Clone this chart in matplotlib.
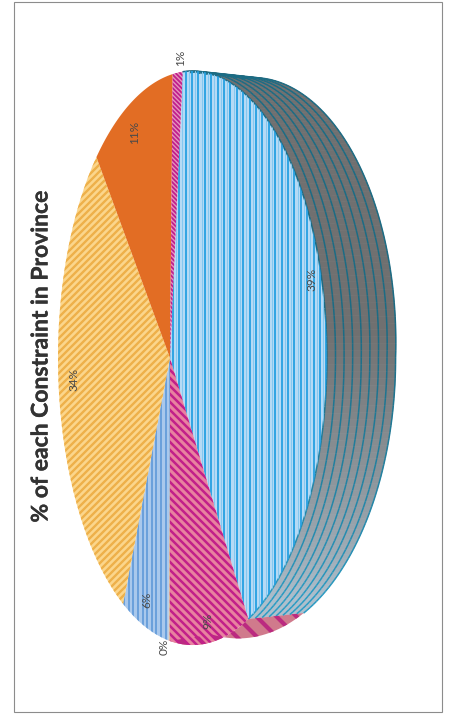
import numpy as np
import matplotlib
matplotlib.use("Agg")
import matplotlib.pyplot as plt
import matplotlib.patheffects as pe
from matplotlib.collections import LineCollection, PolyCollection
from matplotlib.patches import Polygon, Rectangle

TITLE = "% of each Constraint in Province"
LABELS = ["39%", "9%", "0%", "6%", "34%", "11%", "1%"]
VALUES = [39.3, 9.2, 0.15, 6.05, 33.1, 11.0, 1.2]

# pie drawn in pixel space, tilted and turned on its side
APEX = (170, 358)
A, B, K = 130.7, 283, -0.167
START = 5.5
LABEL_R = [0.95, 0.93, 1.03, 0.90, 0.84, 0.88, 1.05]
LABEL_DA = [-0.5, -1, 2, 0, 2, 0, 1]


def top(theta, r=1.0):
    th = np.radians(theta)
    x, y = r * np.sin(th), r * np.cos(th)
    w = 1 + K * x
    return APEX[0] + A * x / w, APEX[1] - B * y / w


def bottom(theta, t=1.0):
    px, py = top(theta)
    dx = px - APEX[0]
    dy = py - APEX[1]
    # far rim bulges out a little towards the upper right
    bump = max(0, 16 * (1 - theta / 90))
    qx = APEX[0] + 1.17 * dx + 42 + bump
    qy = APEX[1] + 0.977 * dy
    return px + (qx - px) * t, py + (qy - py) * t


def mix(c1, c2, f):
    c1 = np.array(matplotlib.colors.to_rgb(c1))
    c2 = np.array(matplotlib.colors.to_rgb(c2))
    return tuple(c1 + (c2 - c1) * f)


def stripes(ax, patch, kind, color, pitch, lw, offset=0):
    if kind == "v":
        for x in np.arange(offset, 452, pitch):
            ln, = ax.plot([x, x], [0, 721], color=color, lw=lw, solid_capstyle="butt")
            ln.set_clip_path(patch)
    else:
        sign = 1 if kind == "\\" else -1
        for c in np.arange(-800, 1300, pitch):
            ln, = ax.plot([0, 452], [c, c + sign * 452], color=color, lw=lw, solid_capstyle="butt")
            ln.set_clip_path(patch)


fig = plt.figure(figsize=(4.52, 7.21), dpi=100)
ax = fig.add_axes([0, 0, 1, 1])
ax.set_xlim(0, 452)
ax.set_ylim(721, 0)
ax.axis("off")
ax.add_patch(Rectangle((14.5, 2), 427.5, 710, fc="white", ec="#8c8c8c", lw=0.8))

shares = np.array(VALUES) / sum(VALUES) * 360
edges = START + np.concatenate([[0], np.cumsum(shares)])

# side wall: big blue slice, then the pink slice
th_blue = np.linspace(edges[0], edges[1], 120)
quads, cols = [], []
for a, b in zip(th_blue[:-1], th_blue[1:]):
    quads.append([top(a), top(b), bottom(b), bottom(a)])
    f = np.clip((a - 85) / 55, 0, 1)
    cols.append(mix("#707070", "#aebfcc", f))
ax.add_collection(PolyCollection(quads, facecolors=cols, edgecolors=cols, linewidths=0.5))
for t in np.linspace(0.0, 1.0, 9):
    pts = np.array([bottom(a, t) for a in th_blue])
    segs = np.stack([pts[:-1], pts[1:]], axis=1)
    seg_cols = [mix("#1b6c85", "#2a9cc4", np.clip((a - 85) / 55, 0, 1)) for a in th_blue[:-1]]
    ax.add_collection(LineCollection(segs, colors=seg_cols, linewidths=1.1))

th_pink = np.linspace(edges[1], edges[2], 30)
pts = [bottom(a) for a in th_pink] + [top(a) for a in th_pink[::-1]]
wall = Polygon(pts, fc="#d07a8c", ec="none")
ax.add_patch(wall)
stripes(ax, wall, "\\", "#bb2a80", 20, 3.0)

# top face
styles = [
    ("#b5daf5", "v", "#25a0e2", 6.4, 1.3),
    ("#e8829f", "\\", "#c2208a", 8.0, 1.8),
    ("#d9b48c", None, None, 0, 0),
    ("#a9c8ec", "v", "#5f98d8", 4.6, 1.2),
    ("#fbd68c", "/", "#eeb04a", 7.0, 1.7),
    ("#e26d24", None, None, 0, 0),
    ("#e694bd", "\\", "#c0208c", 4.5, 1.3),
]
for i, (base, kind, col, pitch, lw) in enumerate(styles):
    th = np.linspace(edges[i], edges[i + 1], 80)
    pts = [APEX] + [top(a) for a in th]
    patch = Polygon(pts, fc=base, ec="none")
    ax.add_patch(patch)
    if kind:
        if i == 0:
            stripes(ax, patch, "v", "#84c8f0", pitch, 0.7, offset=3.2)
        stripes(ax, patch, kind, col, pitch, lw)

mids = (edges[:-1] + edges[1:]) / 2
for lab, m, r, da in zip(LABELS, mids, LABEL_R, LABEL_DA):
    x, y = top(m + da, r)
    ax.text(x, y, lab, rotation=90, ha="center", va="center", fontsize=8.5,
            color="#4a4a4a", family="Lato")

ax.text(41, 357, TITLE, rotation=90, ha="center", va="center", fontsize=16.5,
        fontweight="bold", color="#333333", family="Lato",
        path_effects=[pe.withStroke(linewidth=0.25, foreground="#333333")])

fig.savefig("out.png", dpi=100)
